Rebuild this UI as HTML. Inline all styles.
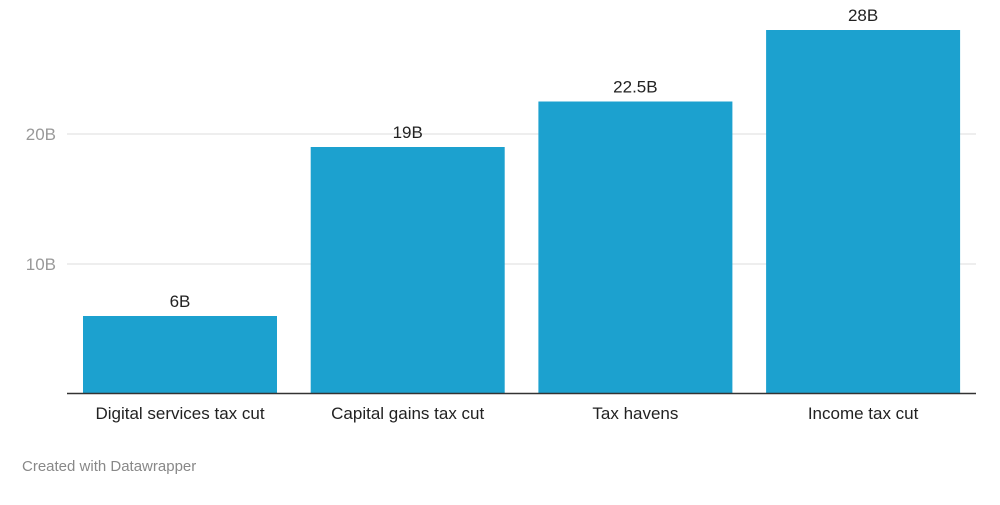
<!DOCTYPE html>
<html><head><meta charset="utf-8"><style>
body{margin:0;background:#fff;font-family:"Liberation Sans",sans-serif;}
svg text{font-family:"Liberation Sans",sans-serif;}
</style></head><body>
<svg width="1000" height="500">
<g id="grid"></g><g id="bars"></g>
<line x1="67" x2="976" y1="393.5" y2="393.5" stroke="#333" stroke-width="1.5"/>
<text x="22" y="471" font-size="15" fill="#888">Created with Datawrapper</text>
</svg>
<script>
const categories=["Digital services tax cut","Capital gains tax cut","Tax havens","Income tax cut"];
const values=[6,19,22.5,28];
const valueLabels=["6B","19B","22.5B","28B"];
const ticks=[10,20];
const tickLabels=["10B","20B"];
const ns="http://www.w3.org/2000/svg";
const y=v=>394-v*13;
const x0=83,step=227.7,bw=194;
const grid=document.getElementById('grid'),bars=document.getElementById('bars');
function mk(t,a,p){const e=document.createElementNS(ns,t);for(const k in a)e.setAttribute(k,a[k]);p.appendChild(e);return e;}
ticks.forEach((t,i)=>{
 const l=mk('line',{x1:67,x2:976,y1:y(t),y2:y(t),stroke:'#ddd','stroke-width':1},grid);
 
 
 const tx=mk('text',{x:56,y:y(t)+6,'text-anchor':'end','font-size':17,fill:'#999'},grid);
 tx.textContent=tickLabels[i];
 
 
});
categories.forEach((c,i)=>{
 const bx=x0+i*step;
 const r=mk('rect',{x:bx,y:y(values[i]),width:bw,height:y(0)-y(values[i]),fill:'#1ca1cf'},bars);
 
 
 const v=mk('text',{x:bx+bw/2,y:y(values[i])-9,'text-anchor':'middle','font-size':17,fill:'#222'},bars);
 v.textContent=valueLabels[i];
 
 
 const cl=mk('text',{x:bx+bw/2,y:419,'text-anchor':'middle','font-size':17,fill:'#222'},bars);
 cl.textContent=c;
 
 
});
</script>
</body></html>
